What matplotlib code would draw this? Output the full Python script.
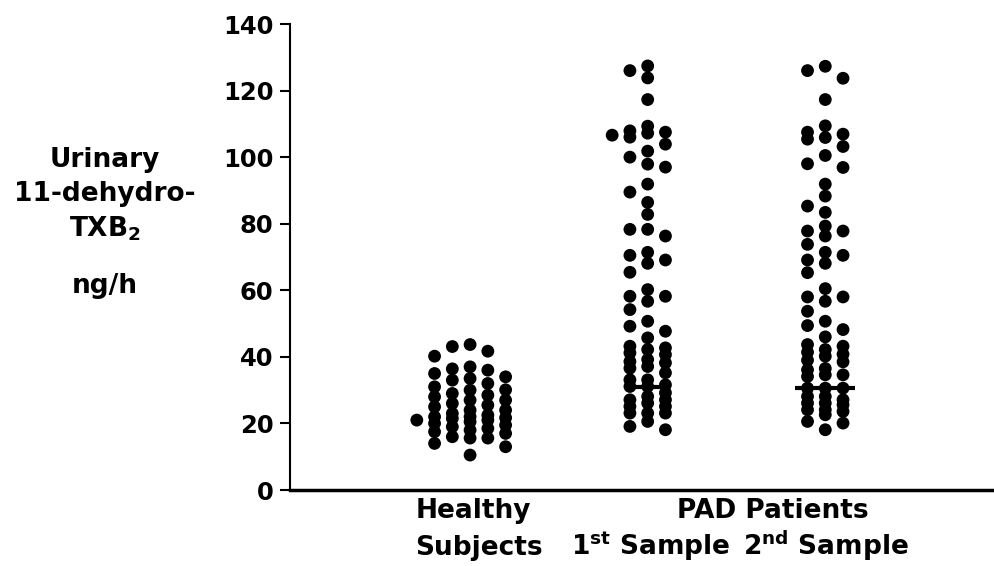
import matplotlib
matplotlib.use("Agg")
import matplotlib.pyplot as plt
import numpy as np

plt.rcParams['font.family'] = ['DejaVu Sans']
plt.rcParams['font.weight'] = 'bold'
plt.rcParams['mathtext.fontset'] = 'custom'
plt.rcParams['mathtext.rm'] = 'DejaVu Sans:bold'
plt.rcParams['mathtext.bf'] = 'DejaVu Sans:bold'

# values (ng/h)
healthy = [43.7, 43.1, 41.7, 40.2, 37.0, 36.4, 36.0, 35.0, 34.0, 33.5, 33.0, 32.0,
           31.0, 30.1, 30.0, 29.0, 28.5, 28.0, 27.0, 27.0, 26.0, 25.5, 25.0, 24.0,
           24.0, 23.0, 22.5, 22.0, 22.0, 21.7, 21.5, 21.0, 21.0, 20.5, 20.0, 19.5,
           19.0, 18.5, 18.0, 17.5, 17.0, 16.0, 15.6, 15.6, 14.0, 13.0, 10.5]
pad_1st = [127.4, 126.0, 123.8, 117.3, 109.3, 107.9, 107.5, 107.2, 106.6, 106.0,
           103.9, 101.8, 100.0, 97.9, 97.0, 91.9, 89.5, 86.4, 82.8, 78.3, 78.3, 76.3,
           71.4, 70.5, 69.1, 68.1, 65.4, 60.2,
           58.2, 54.2, 49.2, 45.7, 42.2, 40.7, 38.6, 36.6, 33.1, 31.6, 28.1, 26.1, 23.1, 19.1,
           47.7, 42.7, 38.2, 31.1, 27.1, 25.1, 23.1, 20.6,
           58.2, 56.7, 50.7, 43.2, 41.2, 39.2, 37.1, 35.2, 33.1, 31.1, 29.2, 27.1, 25.1,
           23.1, 18.1]
pad_2nd = [127.3, 126.0, 123.7, 117.3, 109.4, 107.5, 106.9, 105.9, 105.4, 103.2, 100.5,
           98.0, 96.9, 91.9, 88.3, 85.3, 83.4, 79.3, 77.8, 77.8, 76.3, 73.8, 71.4, 70.5,
           69.1, 68.1, 65.3, 60.5, 58.0, 58.0, 56.7, 53.7, 50.7, 49.4, 48.2, 46.0, 43.7,
           43.2, 42.2, 41.4, 40.8, 40.2, 39.0, 38.5, 36.5, 36.1, 34.6, 34.1, 34.6, 30.6,
           30.6, 30.6, 28.1, 28.1, 27.1, 26.1, 26.1, 25.6, 24.1, 24.1, 23.6, 22.6, 20.6,
           20.1, 18.1]
groups = [healthy, pad_1st, pad_2nd]
bar_values = [None, 31.0, 30.6]   # horizontal marks in the PAD columns


def column_offsets(vals, half, step, free=3.6, tight=1.4):
    """isolated dots go to the middle column, crowded ones are spread over
    the columns -half..half, picking the column with the most room"""
    vals = np.asarray(vals)
    order = np.argsort(vals)[::-1]
    cols = {}
    offs = np.zeros(len(vals))
    pref = [0]
    for k in range(1, half + 2):
        pref += [-k, k]

    def room(k, v):
        return min([abs(v - p) for p in cols.get(k, [])] + [np.inf])

    for i in order:
        v = vals[i]
        inner = [k for k in pref if abs(k) <= half]
        pick = next((k for k in inner if room(k, v) >= free), None)
        if pick is None:
            pick = max(inner, key=lambda k: (room(k, v), -abs(k)))
            if room(pick, v) < tight:
                pick = next(k for k in pref if abs(k) > half)
        cols.setdefault(pick, []).append(v)
        offs[i] = pick * step
    return offs


fig = plt.figure(figsize=(9.94, 5.66), dpi=100)
ax = fig.add_axes([290 / 994, 76 / 566, 704 / 994, 466 / 566])

for pos, vals, bar in zip([1, 2, 3], groups, bar_values):
    vals = np.array(vals)
    half = 2 if pos == 1 else 1
    x = pos + column_offsets(vals, half, 0.1)
    ax.scatter(x, vals, s=85, color='black', edgecolors='none', zorder=3)
    if bar is not None:
        hw = 0.09 if pos == 2 else 0.17
        ax.hlines(bar, pos - hw, pos + hw, color='black', lw=3, zorder=2)

ax.set_xlim(-0.014, 3.95)
ax.set_ylim(0, 140)
ax.set_yticks(np.arange(0, 141, 20))
ax.set_xticks([])
for s in ['top', 'right']:
    ax.spines[s].set_visible(False)
ax.spines['left'].set_linewidth(1.5)
ax.spines['bottom'].set_linewidth(2.5)
ax.tick_params(axis='y', direction='out', length=7, width=1.5, pad=5, labelsize=17.5)
for lab in ax.get_yticklabels():
    lab.set_fontweight('bold')

# y-axis caption
fs = 19
fig.text(105 / 994, 1 - 160 / 566, 'Urinary', ha='center', va='center', fontsize=fs)
fig.text(105 / 994, 1 - 194 / 566, '11-dehydro-', ha='center', va='center', fontsize=fs)
fig.text(105 / 994, 1 - 229 / 566, r'TXB$_{\mathrm{2}}$', ha='center', va='center', fontsize=fs)
fig.text(105 / 994, 1 - 286 / 566, 'ng/h', ha='center', va='center', fontsize=fs)

# group captions
fig.text(473 / 994, 1 - 511 / 566, 'Healthy', ha='center', va='center', fontsize=fs)
fig.text(479 / 994, 1 - 548 / 566, 'Subjects', ha='center', va='center', fontsize=fs)
fig.text(773 / 994, 1 - 511 / 566, 'PAD Patients', ha='center', va='center', fontsize=fs)
fig.text(651 / 994, 1 - 546 / 566, r'1$^{\mathrm{st}}$ Sample', ha='center', va='center', fontsize=fs)
fig.text(826 / 994, 1 - 546 / 566, r'2$^{\mathrm{nd}}$ Sample', ha='center', va='center', fontsize=fs)

fig.savefig('out.png', dpi=100)
